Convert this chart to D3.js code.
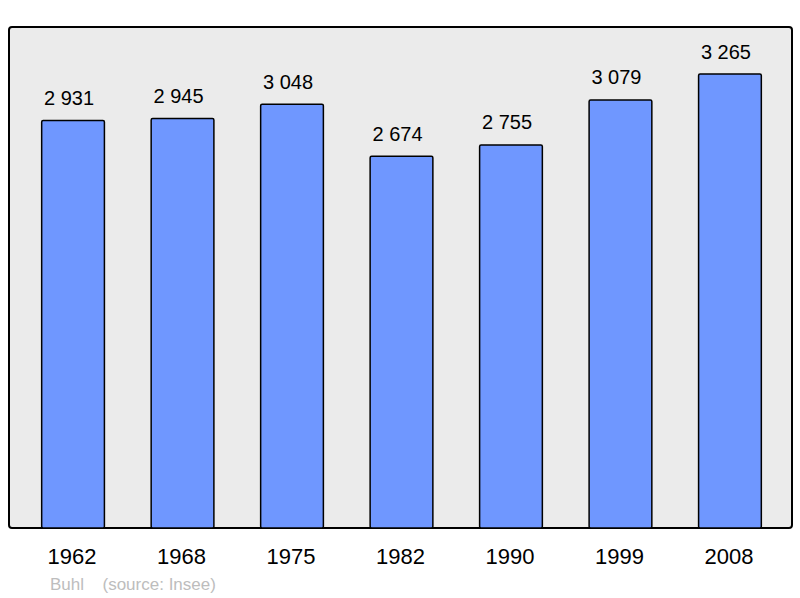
<!DOCTYPE html>
<html lang="fr">
<head>
<meta charset="utf-8">
<title>Buhl population</title>
<script src="https://d3js.org/d3.v7.min.js"></script>
<style>
  body { margin: 0; background: #fff; }
  text { font-family: "Liberation Sans", Arial, sans-serif; }
</style>
</head>
<body>
<svg width="800" height="598"></svg>
<script>
var years = ["1962", "1968", "1975", "1982", "1990", "1999", "2008"];
var population = [2931, 2945, 3048, 2674, 2755, 3079, 3265];
var valueLabels = ["2 931", "2 945", "3 048", "2 674", "2 755", "3 079", "3 265"];

var svg = d3.select("svg");

var panel = { left: 9, top: 27, right: 792, bottom: 528 };

svg.append("rect")
    .attr("x", panel.left)
    .attr("y", panel.top)
    .attr("width", panel.right - panel.left)
    .attr("height", panel.bottom - panel.top)
    .attr("rx", 3)
    .attr("fill", "#ebebeb")
    .attr("stroke", "#000")
    .attr("stroke-width", 2);

var x = d3.scaleBand()
    .domain(years)
    .range([18.3, 784.7])
    .paddingInner(0.427)
    .paddingOuter(0.2135);

var y = d3.scaleLinear()
    .domain([0, 3600])
    .range([panel.bottom, panel.top + 0.5]);

var bars = svg.append("g");

bars.selectAll("rect")
  .data(population)
  .enter().append("rect")
    .attr("x", function(d, i) { return x(years[i]); })
    .attr("y", function(d) { return y(d); })
    .attr("width", x.bandwidth())
    .attr("height", function(d) { return panel.bottom - y(d); })
    .attr("rx", 1.5)
    .attr("fill", "#6f97ff")
    .attr("stroke", "#000")
    .attr("stroke-width", 1.5);

// value labels sit a little left of the bar centre, as in the original
bars.selectAll("text")
  .data(population)
  .enter().append("text")
    .attr("x", function(d, i) { return x(years[i]) + x.bandwidth() / 2 - 4; })
    .attr("y", function(d) { return y(d) - 15.5; })
    .attr("text-anchor", "middle")
    .attr("font-size", 20)
    .attr("fill", "#000")
    .text(function(d, i) { return valueLabels[i]; });

// year labels
svg.append("g").selectAll("text")
  .data(years)
  .enter().append("text")
    .attr("x", function(d) { return x(d) + x.bandwidth() / 2 - 1; })
    .attr("y", 564)
    .attr("text-anchor", "middle")
    .attr("font-size", 22)
    .attr("fill", "#000")
    .text(function(d) { return d; });

svg.append("text")
    .attr("x", 50)
    .attr("y", 590)
    .attr("font-size", 17)
    .attr("fill", "#bdbdbd")
    .text("Buhl");

svg.append("text")
    .attr("x", 102.5)
    .attr("y", 590)
    .attr("font-size", 17)
    .attr("fill", "#bdbdbd")
    .text("(source: Insee)");
</script>
</body>
</html>
